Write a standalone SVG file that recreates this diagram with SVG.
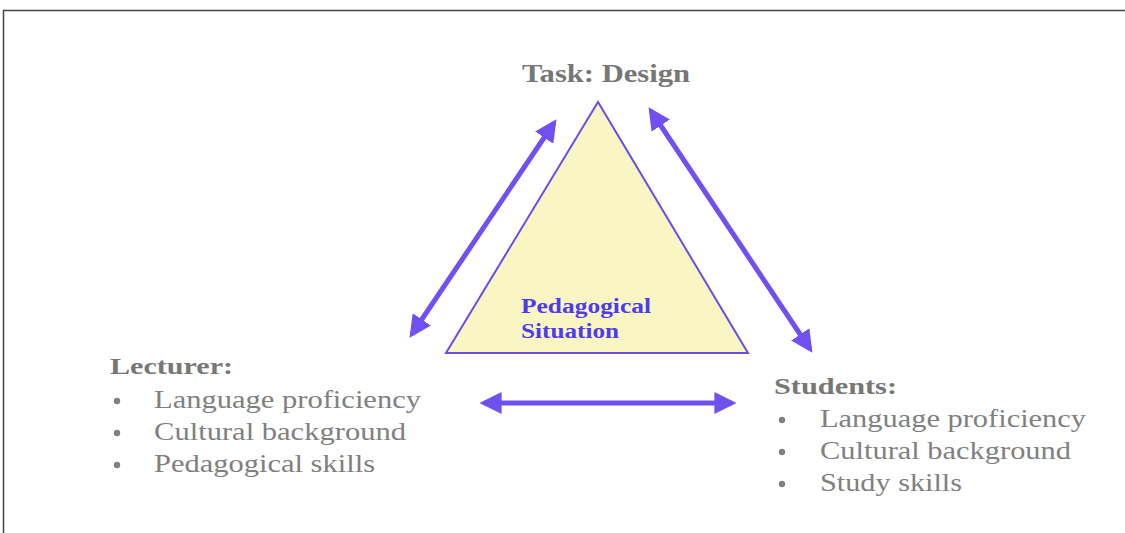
<svg xmlns="http://www.w3.org/2000/svg" width="1125" height="533" viewBox="0 0 1125 533">
<style>
.h{font-family:"Liberation Serif",serif;font-weight:bold;fill:#777;font-size:24px}
.t{font-family:"Liberation Serif",serif;fill:#808080;font-size:25px}
.c{font-family:"Liberation Serif",serif;font-weight:bold;fill:#4b3cf0;font-size:20px}
.con{stroke:#7050f0;stroke-width:5;fill:none;marker-start:url(#ah);marker-end:url(#ah)}
.dot{fill:#808080}
</style>
<defs>
<marker id="ah" viewBox="0 0 10 10" refX="8" refY="5" markerWidth="4.4" markerHeight="4.4" orient="auto-start-reverse" markerUnits="strokeWidth">
<path d="M0,0 L10,5 L0,10 z" fill="#7050f0"/>
</marker>
</defs>
<rect width="1125" height="533" fill="#fff"/>
<path d="M3.5,533 V10.5 H1125" fill="none" stroke="#444" stroke-width="1.5"/>
<g id="triangle">
<polygon points="598,102 446,353 748,353" fill="#faf6c4" stroke="#6a4ce8" stroke-width="2"/>
<text class="c" x="521" y="313" textLength="130" lengthAdjust="spacingAndGlyphs">Pedagogical</text>
<text class="c" x="521" y="338" textLength="98" lengthAdjust="spacingAndGlyphs">Situation</text>
</g>
<g id="task">
<text class="h" x="522" y="82" style="font-size:26px" textLength="168" lengthAdjust="spacingAndGlyphs">Task: Design</text>
</g>
<g id="lecturer">
<text class="h" x="110" y="374" textLength="123" lengthAdjust="spacingAndGlyphs">Lecturer:</text>
<circle class="dot" cx="117" cy="401" r="3.2"/>
<circle class="dot" cx="117" cy="433" r="3.2"/>
<circle class="dot" cx="117" cy="465" r="3.2"/>
<text class="t" x="154" y="408" textLength="267" lengthAdjust="spacingAndGlyphs">Language proficiency</text>
<text class="t" x="154" y="440" textLength="252" lengthAdjust="spacingAndGlyphs">Cultural background</text>
<text class="t" x="154" y="472" textLength="221" lengthAdjust="spacingAndGlyphs">Pedagogical skills</text>
</g>
<g id="students">
<text class="h" x="774" y="394" textLength="123" lengthAdjust="spacingAndGlyphs">Students:</text>
<circle class="dot" cx="782" cy="420" r="3.2"/>
<circle class="dot" cx="782" cy="452" r="3.2"/>
<circle class="dot" cx="782" cy="484" r="3.2"/>
<text class="t" x="820" y="427" textLength="266" lengthAdjust="spacingAndGlyphs">Language proficiency</text>
<text class="t" x="820" y="459" textLength="251" lengthAdjust="spacingAndGlyphs">Cultural background</text>
<text class="t" x="820" y="491" textLength="142" lengthAdjust="spacingAndGlyphs">Study skills</text>
</g>
<g id="connectors">
<line class="con" x1="412" y1="334" x2="554" y2="123"/>
<line class="con" x1="651" y1="111" x2="810" y2="349"/>
<line class="con" x1="484" y1="403" x2="732" y2="403"/>
</g>
</svg>
